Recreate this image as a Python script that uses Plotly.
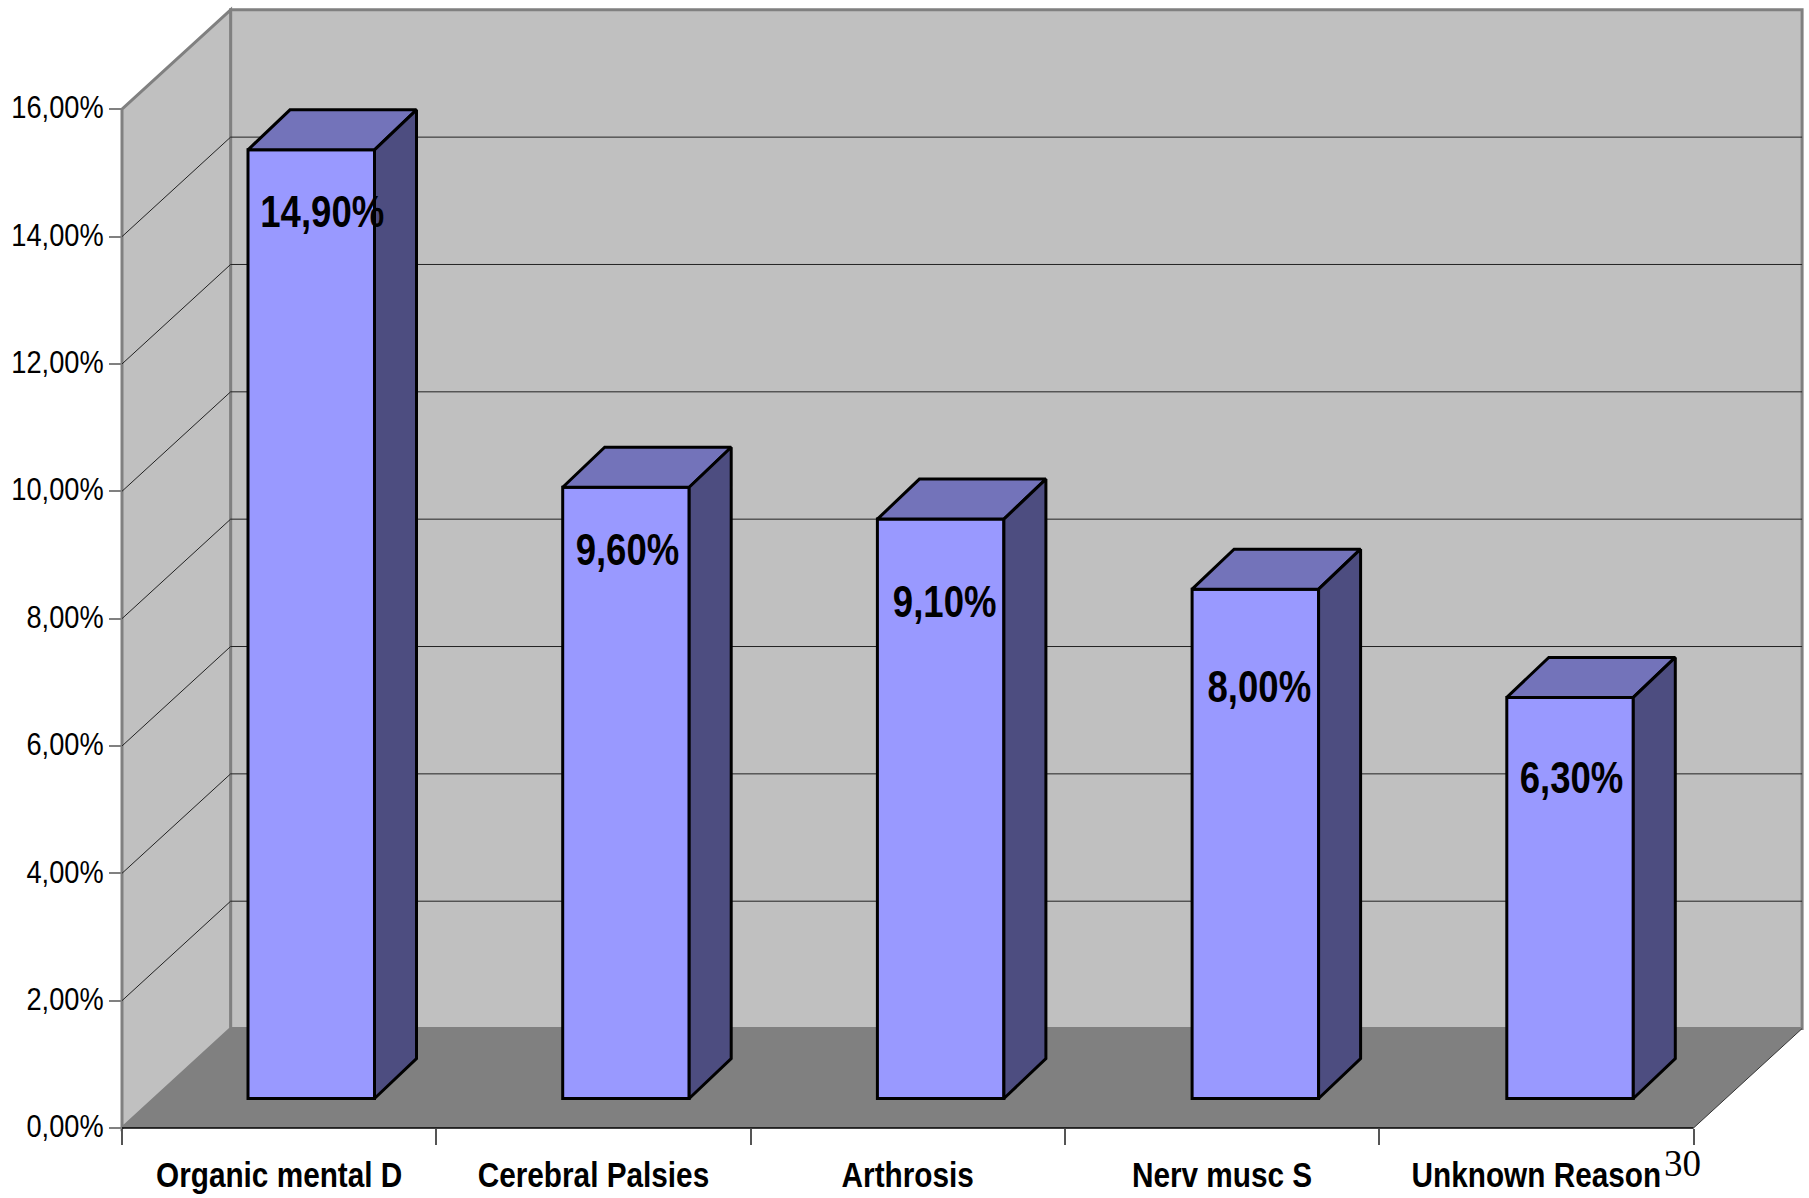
import plotly.graph_objects as go

categories = ["Organic mental D", "Cerebral Palsies", "Arthrosis", "Nerv musc S", "Unknown Reason"]
values = [14.9, 9.6, 9.1, 8.0, 6.3]
value_labels = ["14,90%", "9,60%", "9,10%", "8,00%", "6,30%"]
y_ticks = [0, 2, 4, 6, 8, 10, 12, 14, 16]
y_tick_labels = ["0,00%", "2,00%", "4,00%", "6,00%", "8,00%", "10,00%", "12,00%", "14,00%", "16,00%"]
page_note = "30"

# ---- geometry / style ----
W, H = 1809, 1198
X0_PX, Y0_PX = 122, 1128.5    # where category 0 / 0 % sit on the page
PX_X, PX_Y = 314.3, 63.7      # pixels per category, pixels per percent
PAD = 4
BACK_DX, BACK_DY = 108.6 / PX_X, 99.5 / PX_Y    # depth of the floor
BAR_DX, BAR_DY = 42 / PX_X, 40 / PX_Y           # depth of a bar
BAR_LEFT, BAR_W, BAR_PITCH = 126 / PX_X, 126.5 / PX_X, 314.7 / PX_X
BAR_BASE = 29.5 / PX_Y
LABEL_DOWN_PX = [66.5, 66.5, 86.5, 102, 85]
LABEL_RIGHT_PX = [11, 1.5, 4, 4, 1.5]
FRONT, TOP, SIDE = "#9999FF", "#7373BA", "#4D4D80"
WALL, FLOOR, EDGE = "#C0C0C0", "#808080", "#808080"
SANS = "Liberation Sans"
CONDENSE_VALUES, CONDENSE_X, CONDENSE_Y = 0.83, 0.85, 0.85

n = len(categories)
x_end = n
y_top = y_ticks[-1]
xr = [-PAD / PX_X, (W - PAD - X0_PX) / PX_X]
yr = [-PAD / PX_Y, (Y0_PX - PAD) / PX_Y]
plot_w, plot_h = (xr[1] - xr[0]) * PX_X, (yr[1] - yr[0]) * PX_Y


def poly(xs, ys, fill, line=None, width=0):
    path = "M" + "L".join(f"{a},{b}" for a, b in zip(xs, ys)) + "Z"
    return dict(type="path", path=path, xref="x", yref="y", layer="below", fillcolor=fill,
                line=dict(color=line or fill, width=width))


def seg(x0, y0, x1, y1, color="#222222", width=1):
    return dict(type="line", x0=x0, y0=y0, x1=x1, y1=y1, xref="x", yref="y", layer="below",
                line=dict(color=color, width=width))


shapes = [
    poly([BACK_DX, x_end + BACK_DX, x_end + BACK_DX, BACK_DX],
         [BACK_DY, BACK_DY, y_top + BACK_DY, y_top + BACK_DY], WALL, EDGE, 3),
    poly([0, BACK_DX, BACK_DX, 0], [0, BACK_DY, y_top + BACK_DY, y_top], WALL, EDGE, 3),
    poly([0, x_end, x_end + BACK_DX, BACK_DX], [0, 0, BACK_DY, BACK_DY], FLOOR),
    seg(x_end, 0, x_end + BACK_DX, BACK_DY, "#333333", 1),
]
for t in y_ticks[1:-1]:
    shapes.append(seg(BACK_DX, t + BACK_DY, x_end + BACK_DX, t + BACK_DY))
    shapes.append(seg(0, t, BACK_DX, t + BACK_DY))

fig = go.Figure()

lefts = [BAR_LEFT + i * BAR_PITCH for i in range(n)]
fig.add_trace(go.Bar(
    x=[a + BAR_W / 2 for a in lefts], y=values, base=[BAR_BASE] * n, width=BAR_W,
    marker=dict(color=FRONT, line=dict(color="black", width=3)), hoverinfo="skip", showlegend=False,
))

for a, v in zip(lefts, values):
    b = a + BAR_W
    top = v + BAR_BASE
    fig.add_trace(go.Scatter(
        x=[a, b, b + BAR_DX, a + BAR_DX, a], y=[top, top, top + BAR_DY, top + BAR_DY, top],
        mode="lines", fill="toself", fillcolor=TOP, line=dict(color="black", width=3),
        hoverinfo="skip", showlegend=False,
    ))
    fig.add_trace(go.Scatter(
        x=[b, b + BAR_DX, b + BAR_DX, b, b],
        y=[BAR_BASE, BAR_BASE + BAR_DY, top + BAR_DY, top, BAR_BASE],
        mode="lines", fill="toself", fillcolor=SIDE, line=dict(color="black", width=3),
        hoverinfo="skip", showlegend=False,
    ))

fig.add_trace(go.Scatter(
    x=[a + BAR_W / 2 + r / PX_X for a, r in zip(lefts, LABEL_RIGHT_PX)],
    y=[v + BAR_BASE - d / PX_Y for v, d in zip(values, LABEL_DOWN_PX)],
    mode="text", text=value_labels, textposition="middle center",
    textfont=dict(family=SANS, size=44, color="black", weight="bold"),
    hoverinfo="skip", showlegend=False, cliponaxis=False,
))

# x axis base line, running past the plot on the left
fig.add_trace(go.Scatter(x=[-13 / PX_X, x_end], y=[0, 0], mode="lines", line=dict(color="black", width=1.5),
                         hoverinfo="skip", showlegend=False, cliponaxis=False))

fig.update_layout(
    width=W, height=H, paper_bgcolor="white", plot_bgcolor="white", shapes=shapes,
    margin=dict(l=X0_PX - PAD, r=PAD, t=PAD, b=H - Y0_PX - PAD, autoexpand=False),
    showlegend=False,
    xaxis=dict(
        range=xr, showgrid=False, zeroline=False, showline=False, anchor="free",
        position=PAD / plot_h, tickmode="array", tickvals=[i + 0.5 for i in range(n)], ticktext=categories,
        ticks="", ticklabelstandoff=23,
        tickfont=dict(family=SANS, size=35, color="black", weight="bold"),
        minor=dict(tickmode="array", tickvals=list(range(n + 1)), ticks="outside", ticklen=16,
                   tickcolor="#555555", tickwidth=1.5),
    ),
    yaxis=dict(
        range=yr, showgrid=False, zeroline=False, showline=False, anchor="free",
        position=PAD / plot_w, tickmode="array", tickvals=y_ticks, ticktext=y_tick_labels,
        ticks="outside", ticklen=13, tickcolor="#808080", tickwidth=1.5, ticklabelshift=-2, ticklabelstandoff=-1,
        tickfont=dict(family=SANS, size=32, color="black"),
    ),
    annotations=[dict(x=(1682.5 - 118) / plot_w, y=-(1164 - (Y0_PX + PAD)) / plot_h, xref="paper", yref="paper",
                      xanchor="center", yanchor="middle", text=page_note, showarrow=False, borderpad=0,
                      font=dict(family="Liberation Serif", size=37, color="black"))],
)

condense_js = """
document.body.style.margin='0';document.body.style.overflow='hidden';
(function(){
  var gd=document.getElementById('{plot_id}');
  var groups=[['.xtick text',FX],['.ytick text',FY],['.textpoint text',FV]];
  function f(){
    groups.forEach(function(g){
      gd.querySelectorAll(g[0]).forEach(function(t){
        if(t.getAttribute('lengthAdjust')) return;
        var len=t.getComputedTextLength();
        if(!len) return;
        t.setAttribute('lengthAdjust','spacingAndGlyphs');
        t.setAttribute('textLength',(len*g[1]).toFixed(1));
      });
    });
  }
  f(); if(gd.on) gd.on('plotly_afterplot',f); setTimeout(f,50);
})();
""".replace("FX", str(CONDENSE_X)).replace("FY", str(CONDENSE_Y)).replace("FV", str(CONDENSE_VALUES))

fig.write_html("out.html", config=dict(displayModeBar=False), post_script=condense_js)
